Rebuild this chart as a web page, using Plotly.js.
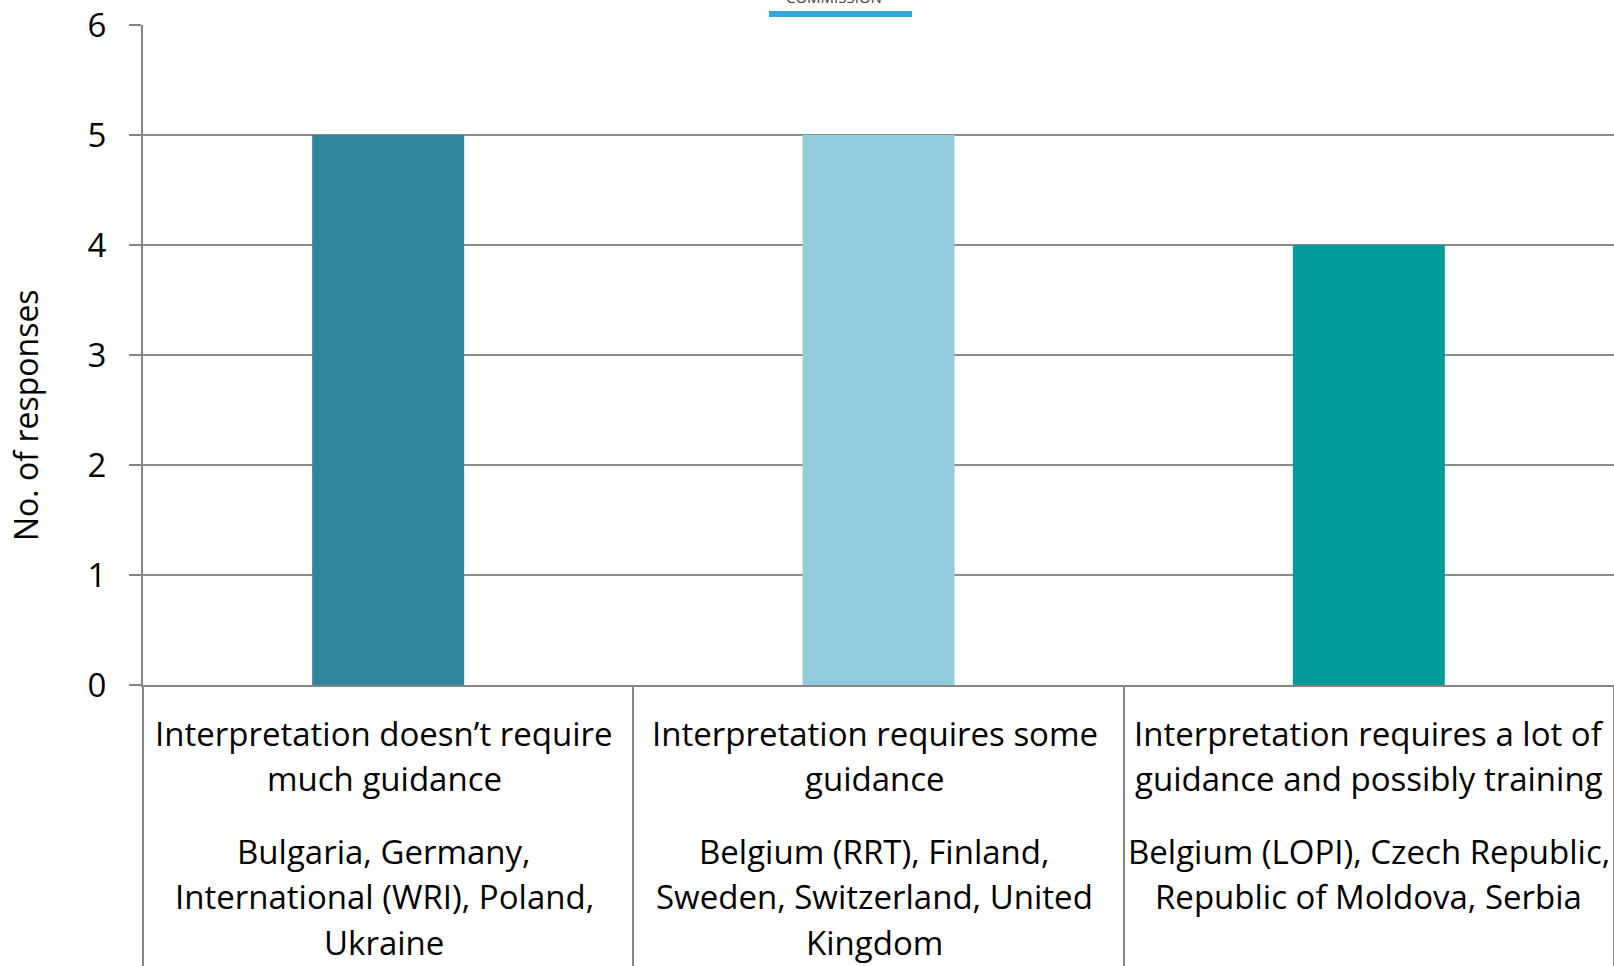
<!DOCTYPE html>
<html>
<head>
<meta charset="utf-8">
<script src="https://cdn.plot.ly/plotly-3.0.1.min.js"></script>
<style>html,body{margin:0;padding:0;background:#fff;}#chart{width:1614px;height:966px;}</style>
</head>
<body>
<div id="chart"></div>
<script>
const categories = ["Interpretation doesn’t require<br>much guidance", "Interpretation requires some<br>guidance", "Interpretation requires a lot of<br>guidance and possibly training"];
const countries = ["Bulgaria, Germany,<br>International (WRI), Poland,<br>Ukraine", "Belgium (RRT), Finland,<br>Sweden, Switzerland, United<br>Kingdom", "Belgium (LOPI), Czech Republic,<br>Republic of Moldova, Serbia"];
const responses = [5, 5, 4];
const barColors = ["#31859C", "#93CDDD", "#009B98"];
const yTitle = "No. of responses";
const logoText = "COMMISSION";

const FONT = "Open Sans, Liberation Sans, sans-serif";
const FS = 33;
const keys = ["c0", "c1", "c2"];
const labelShift = [-4, -4, 0];

const trace = {
  type: "bar",
  x: keys,
  y: responses,
  marker: {color: barColors, line: {width: 0}},
  hoverinfo: "none"
};

const AXIS_Y = 685;
const annotations = [];
function addLines(k, i, text, firstCenter, step) {
  text.split("<br>").forEach((line, j) => {
    const c = firstCenter + step * j;
    annotations.push({
      x: k, y: 0, xref: "x", yref: "y", yanchor: "middle", xanchor: "center",
      yshift: AXIS_Y - c, xshift: labelShift[i], text: line, showarrow: false, align: "center",
      font: {family: FONT, size: FS, color: "#000"}
    });
  });
}
keys.forEach((k, i) => {
  addLines(k, i, categories[i], 733, 45.5);
  addLines(k, i, countries[i], 851, 45.5);
});
annotations.push({
  x: 0, y: (AXIS_Y - 415) / 660, xref: "paper", yref: "paper",
  xanchor: "center", yanchor: "middle", xshift: -117, textangle: -90,
  text: yTitle, showarrow: false,
  font: {family: FONT, size: 32, color: "#000"}
});
annotations.push({
  x: 0.47, y: 1, xref: "paper", yref: "paper", yanchor: "bottom", xanchor: "center",
  yshift: 16, text: logoText, showarrow: false,
  font: {family: FONT, size: 15, color: "#404040"}
});

const layout = {
  width: 1614, height: 966,
  margin: {l: 143, r: 0, t: 25, b: 281, pad: 0},
  paper_bgcolor: "#fff", plot_bgcolor: "#fff",
  showlegend: false,
  bargap: 0.69,
  font: {family: FONT, size: 32, color: "#000"},
  xaxis: {
    type: "category",
    showticklabels: false,
    ticks: "outside", tickson: "boundaries", ticklen: 281, tickwidth: 2, tickcolor: "#858585",
    showline: true, linecolor: "#858585", linewidth: 2,
    showgrid: false, zeroline: false, fixedrange: true
  },
  yaxis: {
    range: [0, 6], dtick: 1, tick0: 0,
    ticks: "outside", ticklen: 12, tickwidth: 2, tickcolor: "#858585",
    ticklabelstandoff: 16,
    tickfont: {family: FONT, size: 33, color: "#000"},
    showline: true, linecolor: "#858585", linewidth: 2,
    showgrid: true, gridcolor: "#8c8c8c", gridwidth: 2,
    zeroline: false, fixedrange: true, automargin: false
  },
  shapes: [{
    type: "line", xref: "paper", yref: "paper",
    x0: (769 - 143) / 1471, x1: (912 - 143) / 1471, y0: 11, y1: 11,
    ysizemode: "pixel", yanchor: 1,
    line: {color: "#2EA9DF", width: 6}
  }],
  annotations: annotations
};

Plotly.newPlot("chart", [trace], layout, {displayModeBar: false, staticPlot: true});
</script>
</body>
</html>
